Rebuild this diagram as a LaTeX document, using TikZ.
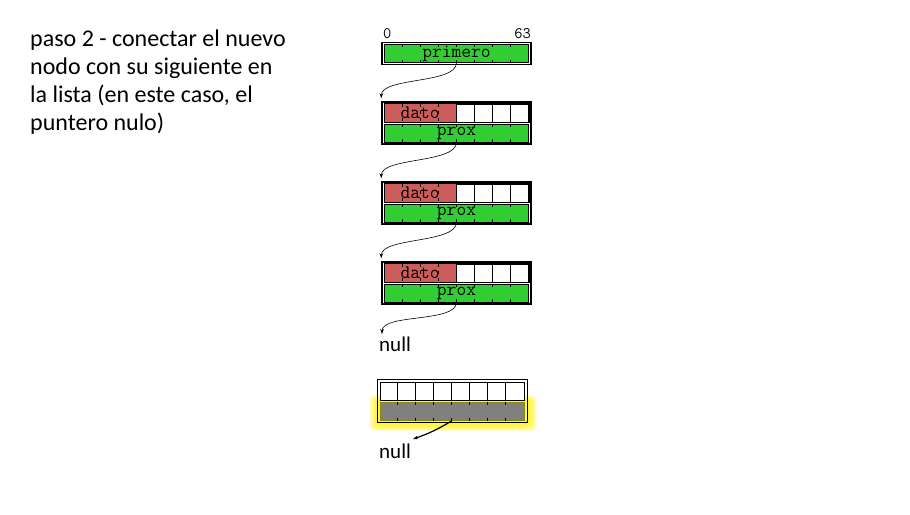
\documentclass[tikz,border=0pt]{standalone}
\usepackage{fontspec}
\setmainfont{Carlito}
\usetikzlibrary{arrows.meta,calc}
\definecolor{bgreen}{RGB}{50,205,50}
\definecolor{bred}{RGB}{205,92,92}
\definecolor{bgray}{RGB}{128,128,128}
\definecolor{olivey}{RGB}{140,140,0}
\begin{document}
\begin{tikzpicture}[x=1pt,y=-1pt,
  frame/.style={draw=black, line width=1.4pt, fill=white, minimum width=149pt, inner sep=0pt},
  row/.style={draw=black, line width=0.6pt, minimum width=144pt, minimum height=18pt, inner sep=0pt},
  mono/.style={font=\ttfamily\fontsize{19}{19}\selectfont, inner sep=0pt},
  small/.style={font=\ttfamily\fontsize{16}{16}\selectfont, inner sep=0pt},
  sans/.style={font=\fontsize{21}{28}\selectfont, inner sep=0pt},
  bigsans/.style={font=\fontsize{24}{28}\selectfont, inner sep=0pt},
  conn/.style={line width=0.6pt, -{Stealth[length=5pt,width=3.5pt]}},
  tick/.style={line width=0.6pt},
  dtick/.style={line width=0.7pt, dash pattern=on 3pt off 4pt}]
\useasboundingbox (0,0) rectangle (910,514);

% explanatory text
\node[bigsans, anchor=north west, align=left] (txt) at (30,30)
  {paso 2 - conectar el nuevo\\nodo con su siguiente en\\la lista (en este caso, el\\puntero nulo)};

% primero
\node[small, anchor=base west] (b0) at (383,38) {0};
\node[small, anchor=base east] (b63) at (531,38) {63};
\node[frame, minimum height=22pt] (pf) at (456.5,53.7) {};
\node[row, fill=bgreen] (prim) at (456.5,53.5) {};
\foreach \k in {1,...,7} {
  \draw[tick] ($(prim.north west)+(18*\k,0)$) -- ++(0,3);
  \draw[tick] ($(prim.south west)+(18*\k,0)$) -- ++(0,-3);
}
\node[mono] (primt) at (prim.center) {primero};

% list nodes
\foreach \n/\y in {n1/123, n2/203, n3/283} {
  \node[frame, minimum height=42pt] (\n) at (456.5,\y) {};
  \node[row, fill=white] (\n-d) at (456.5,\y-10) {};
  \fill[bred] (\n-d.north west) rectangle (\n-d.south);
  \node[row, fill=bgreen] (\n-p) at (456.5,\y+10) {};
  \draw[line width=0.6pt] (\n-d.north west) rectangle (\n-d.south east);
  \foreach \k in {1,2,3}
    \draw[dtick] ($(\n-d.north west)+(18*\k,0)$) -- ($(\n-d.south west)+(18*\k,0)$);
  \foreach \k in {4,...,7}
    \draw[tick] ($(\n-d.north west)+(18*\k,0)$) -- ($(\n-d.south west)+(18*\k,0)$);
  \foreach \k in {1,...,7} {
    \draw[tick] ($(\n-p.north west)+(18*\k,0)$) -- ++(0,3);
    \draw[tick] ($(\n-p.south west)+(18*\k,0)$) -- ++(0,-3);
  }
  \node[mono] (\n-dt) at ($(\n-d.west)+(36,0)$) {dato};
  \node[mono] (\n-pt) at (\n-p.center) {prox};
}

% null 1
\node[sans, anchor=base west] (null1) at (379,351) {null};
\coordinate (t1) at ($(n1.north west)+(0,-3)$);
\coordinate (t2) at ($(n2.north west)+(0,-3)$);
\coordinate (t3) at ($(n3.north west)+(0,-3)$);
\coordinate (t4) at (382,334);
\draw[conn] (prim.south) to[out=-90,in=90,looseness=0.65] (t1);
\draw[conn] (n1-p.south) to[out=-90,in=90,looseness=0.65] (t2);
\draw[conn] (n2-p.south) to[out=-90,in=90,looseness=0.65] (t3);
\draw[conn] (n3-p.south) to[out=-90,in=90,looseness=0.65] (t4);

% new node with glow
\foreach \i in {0,...,9}
  \fill[yellow, opacity=0.13, rounded corners=5pt] (369+\i*0.9,395+\i*0.5) rectangle (537-\i*0.9,431-\i*0.6);
\node[frame, fill=none, minimum width=150pt, minimum height=43.4pt] (nn) at (452.3,401) {};
\node[row, fill=white] (nn-d) at (452,390.8) {};
\node[row, fill=bgray, draw=olivey, line width=1pt] (nn-p) at (452,411.2) {};
\foreach \k in {1,...,7} {
  \draw[tick] ($(nn-d.north west)+(18*\k,0)$) -- ($(nn-d.south west)+(18*\k,0)$);
  \draw[tick] ($(nn-p.north west)+(18*\k,0)$) -- ++(0,3);
  \draw[tick] ($(nn-p.south west)+(18*\k,0)$) -- ++(0,-3);
}
\node[sans, anchor=base west] (null2) at (379,458) {null};
\coordinate (t5) at (413,439);
\draw[conn, line width=1.2pt] (nn-p.south) to[bend left=6] (t5);
\end{tikzpicture}
\end{document}
